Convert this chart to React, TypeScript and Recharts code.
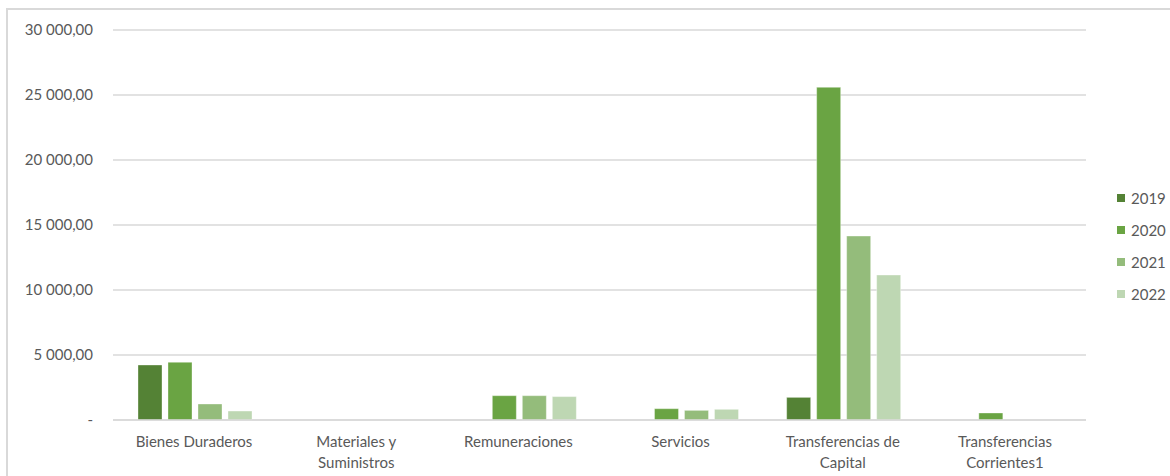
import React from "react";
import { BarChart, Bar, XAxis, YAxis, CartesianGrid, Legend } from "recharts";

const categories = [
  "Bienes Duraderos",
  "Materiales y Suministros",
  "Remuneraciones",
  "Servicios",
  "Transferencias de Capital",
  "Transferencias Corrientes1",
];
const tickLabels = [
  ["Bienes Duraderos"],
  ["Materiales y", "Suministros"],
  ["Remuneraciones"],
  ["Servicios"],
  ["Transferencias de", "Capital"],
  ["Transferencias", "Corrientes1"],
];
const years = ["2019", "2020", "2021", "2022"];
const v2019 = [4230, 0, 0, 0, 1740, 0];
const v2020 = [4440, 0, 1870, 870, 25590, 540];
const v2021 = [1230, 0, 1870, 740, 14150, 0];
const v2022 = [690, 0, 1800, 820, 11150, 0];
const yTicks = [0, 5000, 10000, 15000, 20000, 25000, 30000];
const colors = ["#548235", "#6aa443", "#94bc7b", "#bed7b3"];

const series = [v2019, v2020, v2021, v2022];
const data = categories.map((c, i) => {
  const row: any = { name: c, idx: i };
  years.forEach((y, k) => {
    row[y] = series[k][i];
  });
  return row;
});

const FONT = "Lato, 'Open Sans', sans-serif";
const TEXT = "#595959";

const fmt = (v: number) => {
  if (v === 0) return "-";
  const s = Math.round(v).toString().replace(/\B(?=(\d{3})+(?!\d))/g, " ");
  return s + ",00";
};

const XTick = (props: any) => {
  const { x, y, index } = props;
  const lines = tickLabels[index] || [];
  return (
    <g>
      {lines.map((l: string, k: number) => (
        <text
          key={k}
          x={x}
          y={y + 27 + k * 21}
          textAnchor="middle"
          fill={TEXT}
          fontSize={15}
          fontFamily={FONT}
        >
          {l}
        </text>
      ))}
    </g>
  );
};

const LegendContent = (props: any) => {
  const { payload } = props;
  return (
    <div style={{ fontFamily: FONT, fontSize: 15, color: TEXT }}>
      {(payload || []).map((p: any) => (
        <div
          key={p.value}
          style={{ height: 32, display: "flex", alignItems: "center" }}
        >
          <span
            style={{
              width: 8,
              height: 8,
              background: p.color,
              display: "inline-block",
              marginRight: 6,
            }}
          />
          <span>{p.value}</span>
        </div>
      ))}
    </div>
  );
};

export default function App() {
  return (
    <div
      style={{
        position: "absolute",
        left: 0,
        top: 0,
        width: 1170,
        height: 476,
        background: "#fff",
        overflow: "hidden",
      }}
    >
      <div
        style={{
          position: "absolute",
          left: 6,
          top: 8,
          width: 1200,
          height: 500,
          borderLeft: "2px solid #d9d9d9",
          borderTop: "2px solid #d9d9d9",
        }}
      />
      <div style={{ position: "absolute", left: 0, top: 0 }}>
        <BarChart
          width={1170}
          height={476}
          data={data}
          margin={{ top: 30, right: 84, left: 13, bottom: 0 }}
          barCategoryGap={25}
          barGap={6}
        >
          <CartesianGrid vertical={false} stroke="#d9d9d9" strokeWidth={1.3} />
          <XAxis
            dataKey="name"
            height={56}
            tickLine={false}
            axisLine={{ stroke: "#d9d9d9", strokeWidth: 1.3 }}
            tickSize={0}
            tickMargin={0}
            interval={0}
            tick={<XTick />}
          />
          <YAxis
            width={100}
            domain={[0, 30000]}
            ticks={yTicks}
            tickFormatter={fmt}
            axisLine={false}
            tickLine={false}
            tickSize={0}
            tickMargin={20}
            tick={{ fill: TEXT, fontSize: 15, fontFamily: FONT }}
          />
          <Legend
            layout="horizontal"
            align="center"
            verticalAlign="middle"
            wrapperStyle={{ left: 1117, top: 182, width: 53 }}
            content={<LegendContent />}
          />
          {years.map((y, k) => (
            <Bar
              key={y}
              dataKey={y}
              fill={colors[k]}
              stroke="#ffffff"
              strokeOpacity={0.35}
              strokeWidth={1}
              isAnimationActive={false}
            />
          ))}
        </BarChart>
      </div>
    </div>
  );
}
